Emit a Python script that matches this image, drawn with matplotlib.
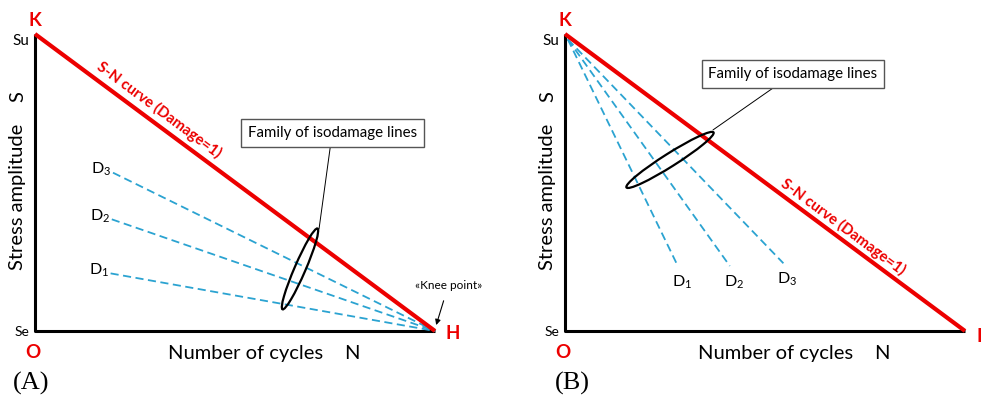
import numpy as np
import matplotlib
matplotlib.use('Agg')
from matplotlib import pyplot as plt
from matplotlib import transforms
from matplotlib.patches import Ellipse

plt.rcParams['font.family'] = ['Lato', 'DejaVu Sans']
plt.rcParams['mathtext.fontset'] = 'custom'
plt.rcParams['mathtext.rm'] = 'Lato'
plt.rcParams['mathtext.default'] = 'regular'

# schematic units: N from 0 to 10, S from Se=0 to Su=10
sn_N = [0, 10]
sn_S = [10, 0]

# (A) isodamage lines converge on the knee point H
isoA_N = [1.89, 1.92, 1.95]
isoA_S = [1.94, 3.76, 5.33]
knee = (10, 0)

# (B) isodamage lines fan out from K
isoB_start = (0.07, 9.82)
isoB_N = [2.82, 4.12, 5.46]
isoB_S = [2.19, 2.19, 2.28]

d_labels = [r'D$_1$', r'D$_2$', r'D$_3$']

RED = '#ec0000'
BLUE = '#2ba3d1'

fig = plt.figure(figsize=(9.83, 3.99), dpi=100)
axA = fig.add_axes([35 / 983, 68 / 399, 400 / 983, 297 / 399])
axB = fig.add_axes([565 / 983, 68 / 399, 400 / 983, 297 / 399])


def frame(ax):
    ax.set_xlim(0, 10)
    ax.set_ylim(0, 10)
    ax.axis('off')
    ax.plot([0, 0, 10], [10, 0, 0], color='black', lw=2.2, clip_on=False,
            solid_capstyle='butt', zorder=2)
    ax.plot(sn_N, sn_S, color=RED, lw=3, clip_on=False, zorder=4,
            solid_capstyle='butt')
    kw = dict(clip_on=False, ha='center', va='center')
    ax.text(0, 10.47, 'K', color=RED, fontsize=13.5, fontweight='bold', **kw)
    ax.text(-0.06, -0.74, 'O', color=RED, fontsize=13.5, fontweight='bold', **kw)
    ax.text(-0.15, 9.78, 'Su', fontsize=11, clip_on=False, ha='right', va='center')
    ax.text(-0.15, -0.05, 'Se', fontsize=10, clip_on=False, ha='right', va='center')
    ax.text(-0.43, 4.51, 'Stress amplitude', fontsize=14.5, rotation=90, **kw)
    ax.text(-0.43, 7.91, 'S', fontsize=14.5, rotation=90, **kw)
    ax.text(5.26, -0.76, 'Number of cycles', fontsize=14.5, **kw)
    ax.text(7.92, -0.76, 'N', fontsize=14.5, **kw)
    ang = ax.transData.transform_angles(np.array([-45.0]), np.array([[5.0, 5.0]]))[0]
    return ang


def loop(ax, cx, cy, length, width, angle):
    tr = fig.dpi_scale_trans + transforms.ScaledTranslation(cx, cy, ax.transData)
    ax.add_patch(Ellipse((0, 0), length / 100, width / 100, angle=angle,
                         transform=tr, fill=False, ec='black', lw=1.6,
                         clip_on=False, zorder=5))


def callout(ax, x, y, tx, ty):
    ax.annotate('Family of isodamage lines', xy=(tx, ty), xytext=(x, y),
                fontsize=10.8, ha='center', va='center',
                bbox=dict(boxstyle='square,pad=0.45', fc='white', ec='#555555', lw=1),
                arrowprops=dict(arrowstyle='-', color='black', lw=0.7,
                                shrinkA=0, shrinkB=0),
                annotation_clip=False, zorder=6)


# ---- (A)
ang = frame(axA)
axA.text(10.44, -0.1, 'H', color=RED, fontsize=13.5, fontweight='bold',
         ha='center', va='center', clip_on=False)
for n, s, lab in zip(isoA_N, isoA_S, d_labels):
    axA.plot([n, knee[0]], [s, knee[1]], color=BLUE, lw=1.3,
             linestyle=(0, (4.5, 2.5)), zorder=3, clip_on=False)
    axA.text(n - 0.05, s + 0.1, lab, fontsize=11.5, ha='right', va='center')
axA.text(3.1, 7.45, 'S-N curve (Damage=1)', color=RED, fontsize=10.8,
         fontweight='bold', rotation=ang, rotation_mode='anchor',
         ha='center', va='center')
loop(axA, 6.625, 2.09, 88, 11, 66.6)
callout(axA, 7.43, 6.67, 7.1, 3.43)
axA.annotate('«Knee point»', xy=(10.03, 0.2), xytext=(10.33, 1.52),
             fontsize=8.5, ha='center', va='center',
             arrowprops=dict(arrowstyle='-|>', color='black', lw=0.8,
                             mutation_scale=8, shrinkA=5, shrinkB=0),
             annotation_clip=False)
fig.text(31 / 983, 9 / 399, '(A)', family='Liberation Serif',
         fontsize=19, ha='center', va='baseline')

# ---- (B)
ang = frame(axB)
axB.text(10.35, -0.17, 'I', color=RED, fontsize=13.5, fontweight='bold',
         ha='center', va='center', clip_on=False)
for n, s, lab in zip(isoB_N, isoB_S, d_labels):
    axB.plot([isoB_start[0], n], [isoB_start[1], s], color=BLUE, lw=1.3,
             linestyle=(0, (4.5, 2.5)), zorder=3)
    axB.text(n + 0.1, s - 0.55, lab, fontsize=11.5, ha='center', va='center')
axB.text(6.95, 3.5, 'S-N curve (Damage=1)', color=RED, fontsize=10.8,
         fontweight='bold', rotation=ang, rotation_mode='anchor',
         ha='center', va='center')
loop(axB, 2.625, 5.76, 103, 13, 32.3)
callout(axB, 5.7, 8.65, 3.7, 6.77)
fig.text(572 / 983, 9 / 399, '(B)', family='Liberation Serif',
         fontsize=19, ha='center', va='baseline')

fig.savefig('out.png', dpi=100)
